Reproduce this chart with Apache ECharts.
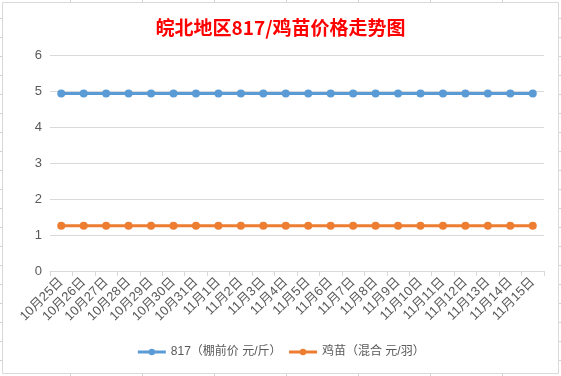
<!DOCTYPE html>
<html>
<head>
<meta charset="utf-8">
<script src="https://cdn.jsdelivr.net/npm/echarts@6/dist/echarts.min.js"></script>
<style>
html,body{margin:0;padding:0;background:#fff;}
#c{width:561px;height:376px;}
</style>
</head>
<body>
<div id="c"></div>
<script>
var categories = ['10月25日','10月26日','10月27日','10月28日','10月29日','10月30日','10月31日','11月1日','11月2日','11月3日','11月4日','11月5日','11月6日','11月7日','11月8日','11月9日','11月10日','11月11日','11月12日','11月13日','11月14日','11月15日'];
var price817 = [4.95,4.95,4.95,4.95,4.95,4.95,4.95,4.95,4.95,4.95,4.95,4.95,4.95,4.95,4.95,4.95,4.95,4.95,4.95,4.95,4.95,4.95];
var chickPrice = [1.26,1.26,1.26,1.26,1.26,1.26,1.26,1.26,1.26,1.26,1.26,1.26,1.26,1.26,1.26,1.26,1.26,1.26,1.26,1.26,1.26,1.26];
var seriesNames = ['817（棚前价 元/斤）','鸡苗（混合 元/羽）'];
var titleText = '皖北地区817/鸡苗价格走势图';

var FONT = '"Liberation Sans","Noto Sans CJK SC",sans-serif';
var gridCol = '#D4D4D4';
var sheet = [];
var cols = [70.5,142.5,214.5,286.5,358.5,430.5,502.5];
cols.forEach(function(x){
  sheet.push({type:'line',shape:{x1:x,y1:0,x2:x,y2:376},style:{stroke:gridCol,lineWidth:1}});
});
for (var r=18.5; r<376; r+=19) {
  sheet.push({type:'line',shape:{x1:0,y1:r,x2:561,y2:r},style:{stroke:gridCol,lineWidth:1}});
}
sheet.push({type:'rect',shape:{x:2.5,y:2.5,width:556,height:371},style:{fill:'#fff',stroke:'#D9D9D9',lineWidth:1}});

var chart = echarts.init(document.getElementById('c'));
chart.setOption({
  animation:false,
  backgroundColor:'#fff',
  graphic:{elements:sheet},
  title:{
    text:titleText,left:'center',top:13,
    textStyle:{color:'#FF0000',fontSize:19,fontWeight:'bold',fontFamily:'"Noto Sans CJK SC",sans-serif'}
  },
  legend:{
    bottom:13,left:'center',itemWidth:28,itemHeight:8,itemGap:6,
    textStyle:{color:'#595959',fontSize:12,fontFamily:FONT},
    data:[
      {name:seriesNames[0],lineStyle:{width:3}},
      {name:seriesNames[1],lineStyle:{width:3}}
    ]
  },
  grid:{left:50,right:17,top:55.7,bottom:105,containLabel:false},
  xAxis:{
    type:'category',data:categories,boundaryGap:true,
    axisLine:{lineStyle:{color:'#D9D9D9'}},
    axisTick:{show:true,length:5,lineStyle:{color:'#D9D9D9'}},
    axisLabel:{rotate:45,interval:0,margin:9,color:'#595959',fontSize:13,fontFamily:FONT}
  },
  yAxis:{
    type:'value',min:0,max:6,interval:1,
    axisLine:{show:false},axisTick:{show:false},
    axisLabel:{margin:8,color:'#595959',fontSize:13,fontFamily:FONT},
    splitLine:{lineStyle:{color:'#D9D9D9'}}
  },
  series:[
    {name:seriesNames[0],type:'line',data:price817,symbol:'circle',symbolSize:8,
     lineStyle:{width:3,color:'#5B9BD5'},itemStyle:{color:'#5B9BD5'}},
    {name:seriesNames[1],type:'line',data:chickPrice,symbol:'circle',symbolSize:8,
     lineStyle:{width:3,color:'#ED7D31'},itemStyle:{color:'#ED7D31'}}
  ]
});
</script>
</body>
</html>
